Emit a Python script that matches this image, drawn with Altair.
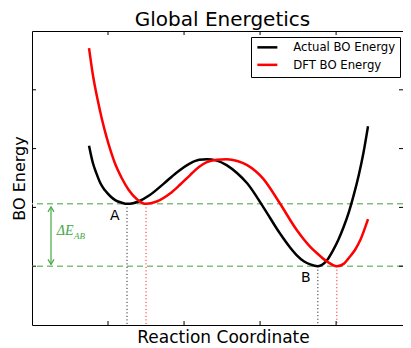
import altair as alt
import pandas as pd

# ---- data (arbitrary units) ----
series_names = ["Actual BO Energy", "DFT BO Energy"]

black_x = [0.75, 0.80, 0.85, 0.90, 0.96, 1.03, 1.10, 1.18, 1.25, 1.33, 1.40, 1.55, 1.73,
           1.90, 2.08, 2.20, 2.30, 2.42, 2.56, 2.70, 2.83, 3.04, 3.26, 3.40, 3.48, 3.58,
           3.66, 3.76, 3.88, 3.96, 4.03, 4.10, 4.17, 4.23, 4.30, 4.36, 4.42]
black_y = [3.05, 2.76, 2.57, 2.41, 2.29, 2.19, 2.12, 2.08, 2.06, 2.07, 2.10, 2.21, 2.40,
           2.59, 2.75, 2.81, 2.82, 2.80, 2.72, 2.58, 2.41, 2.01, 1.56, 1.31, 1.19, 1.08,
           1.03, 1.00, 1.10, 1.27, 1.45, 1.67, 1.93, 2.20, 2.56, 2.93, 3.38]

red_x = [0.75, 0.80, 0.86, 0.92, 0.98, 1.04, 1.10, 1.18, 1.27, 1.38, 1.50, 1.64, 1.82,
         1.95, 2.08, 2.20, 2.30, 2.43, 2.56, 2.70, 2.83, 3.04, 3.26, 3.48, 3.66, 3.75,
         3.88, 4.01, 4.10, 4.18, 4.25, 4.32, 4.42]
red_y = [4.71, 4.26, 3.85, 3.50, 3.20, 2.94, 2.72, 2.50, 2.30, 2.14, 2.06, 2.10, 2.24,
         2.39, 2.55, 2.69, 2.77, 2.81, 2.82, 2.79, 2.72, 2.49, 2.07, 1.62, 1.33, 1.22,
         1.08, 1.00, 1.04, 1.16, 1.28, 1.45, 1.80]

levels = [2.06, 1.00]              # energy of minimum A and B
min_x_black = [1.25, 3.76]         # x of Actual minima A, B
min_x_red = [1.50, 4.01]           # x of DFT minima A, B

x_domain = [0, 4.88]               # visible part of the reference x range
y_domain = [0, 5]
x_ticks = [1, 2, 3, 4]
y_ticks = [1, 2, 3, 4]

arrow_x = [0.25]
arrow_lo = [1.03]
arrow_hi = [2.01]

point_labels = ["A", "B"]
point_label_x = [1.09, 3.60]
point_label_y = [1.85, 0.80]

de_label_x = [0.325]
de_label_y = [1.60]
sub_label_x = [0.553]
sub_label_y = [1.51]

# ---- tables ----
curve_df = pd.DataFrame({
    "x": black_x + red_x,
    "y": black_y + red_y,
    "series": [series_names[0]] * len(black_x) + [series_names[1]] * len(red_x),
})
level_df = pd.DataFrame({"level": levels})
drop_df = pd.DataFrame({
    "x": min_x_black + min_x_red,
    "level": levels + levels,
    "series": [series_names[0]] * 2 + [series_names[1]] * 2,
})
xt_df = pd.DataFrame({"v": x_ticks})
yt_df = pd.DataFrame({"v": y_ticks})
arrow_df = pd.DataFrame({"x": arrow_x, "lo": arrow_lo, "hi": arrow_hi})
lab_df = pd.DataFrame({"t": point_labels, "x": point_label_x, "y": point_label_y})
de_df = pd.DataFrame({"t": ["ΔE"], "x": de_label_x, "y": de_label_y})
sub_df = pd.DataFrame({"t": ["AB"], "x": sub_label_x, "y": sub_label_y})

W, H = 371, 294
FONT = "DejaVu Sans"
GREEN_LIGHT = "#80bf80"
GREEN = "#45a845"

xs = alt.Scale(domain=x_domain, nice=False, zero=False)
ys = alt.Scale(domain=y_domain, nice=False, zero=False)
cs = alt.Scale(domain=series_names, range=["black", "red"])

XAX = alt.Axis(title="Reaction Coordinate", labels=False, ticks=False, domain=False,
               grid=False, titlePadding=4, titleX=191, titleFontSize=17)
YAX = alt.Axis(title="BO Energy", labels=False, ticks=False, domain=False,
               grid=False, titlePadding=5, titleFontSize=16)
LEG = alt.Legend(
    title=None, orient="none", legendX=219, legendY=6, fillColor="white",
    strokeColor="black", padding=4.5, symbolType="M-1,0H4", symbolSize=64,
    symbolStrokeWidth=2.5, labelFontSize=11.7, labelFont=FONT, labelColor="black",
    labelOffset=26, rowPadding=4.5, cornerRadius=0)


def X(f):
    return alt.X(f, scale=xs, axis=XAX)


def Y(f):
    return alt.Y(f, scale=ys, axis=YAX)


curves = alt.Chart(curve_df).mark_line(strokeWidth=2.5, interpolate="monotone").encode(
    x=X("x:Q"),
    y=Y("y:Q"),
    color=alt.Color("series:N", scale=cs, legend=LEG),
    detail="series:N",
)

hlines = alt.Chart(level_df).mark_rule(color=GREEN_LIGHT, strokeWidth=1.5, strokeDash=[6, 4]).encode(
    y=Y("level:Q")
)

drops = alt.Chart(drop_df).mark_rule(strokeWidth=1, strokeDash=[1, 2.5]).encode(
    x=X("x:Q"),
    y=Y("level:Q"),
    y2=alt.datum(0),
    color=alt.Color("series:N", scale=cs, legend=LEG),
)

arrow_line = alt.Chart(arrow_df).mark_rule(color=GREEN, strokeWidth=1.2).encode(
    x=X("x:Q"), y=Y("lo:Q"), y2="hi:Q",
)
arrow_top = alt.Chart(arrow_df).mark_point(shape="M-1,1.7L0,0L1,1.7", size=36, filled=False,
                                           color=GREEN, strokeWidth=1.2, opacity=1).encode(
    x=X("x:Q"), y=Y("hi:Q"))
arrow_bot = alt.Chart(arrow_df).mark_point(shape="M-1,-1.7L0,0L1,-1.7", size=36, filled=False,
                                           color=GREEN, strokeWidth=1.2, opacity=1).encode(
    x=X("x:Q"), y=Y("lo:Q"))

labels = alt.Chart(lab_df).mark_text(font=FONT, fontSize=14, color="black", align="center",
                                     baseline="middle").encode(
    x=X("x:Q"), y=Y("y:Q"), text="t:N")

de_text = alt.Chart(de_df).mark_text(font="Liberation Serif", fontSize=14, fontStyle="italic",
                                     color=GREEN, align="left", baseline="middle").encode(
    x=X("x:Q"), y=Y("y:Q"), text="t:N")
sub_text = alt.Chart(sub_df).mark_text(font="Liberation Serif", fontSize=9, fontStyle="italic",
                                       color=GREEN, align="left", baseline="middle").encode(
    x=X("x:Q"), y=Y("y:Q"), text="t:N")

TL = 4
tick_left = alt.Chart(yt_df).mark_rule(color="black", strokeWidth=1).encode(
    y=Y("v:Q"), x=alt.value(0), x2=alt.value(TL))
tick_right = alt.Chart(yt_df).mark_rule(color="black", strokeWidth=1).encode(
    y=Y("v:Q"), x=alt.value(W - TL), x2=alt.value(W))
tick_bottom = alt.Chart(xt_df).mark_rule(color="black", strokeWidth=1).encode(
    x=X("v:Q"), y=alt.value(H - TL), y2=alt.value(H))
tick_top = alt.Chart(xt_df).mark_rule(color="black", strokeWidth=1).encode(
    x=X("v:Q"), y=alt.value(0), y2=alt.value(TL))

chart = alt.layer(
    hlines, drops, curves, arrow_line, arrow_top, arrow_bot, labels, de_text, sub_text,
    tick_left, tick_right, tick_bottom, tick_top,
).properties(
    width=W, height=H,
    title=alt.TitleParams("Global Energetics", fontSize=20, font=FONT, fontWeight="normal",
                          color="black", anchor="middle", offset=1, dx=5),
    autosize=alt.AutoSizeParams(type="none"),
    padding={"left": 24, "top": 23, "right": 0, "bottom": 24},
).configure_view(
    stroke="black", strokeWidth=1,
).configure_axis(
    titleFont=FONT, titleFontWeight="normal", titleColor="black",
)

chart.save("out.html", embed_options={"renderer": "svg", "actions": False})
